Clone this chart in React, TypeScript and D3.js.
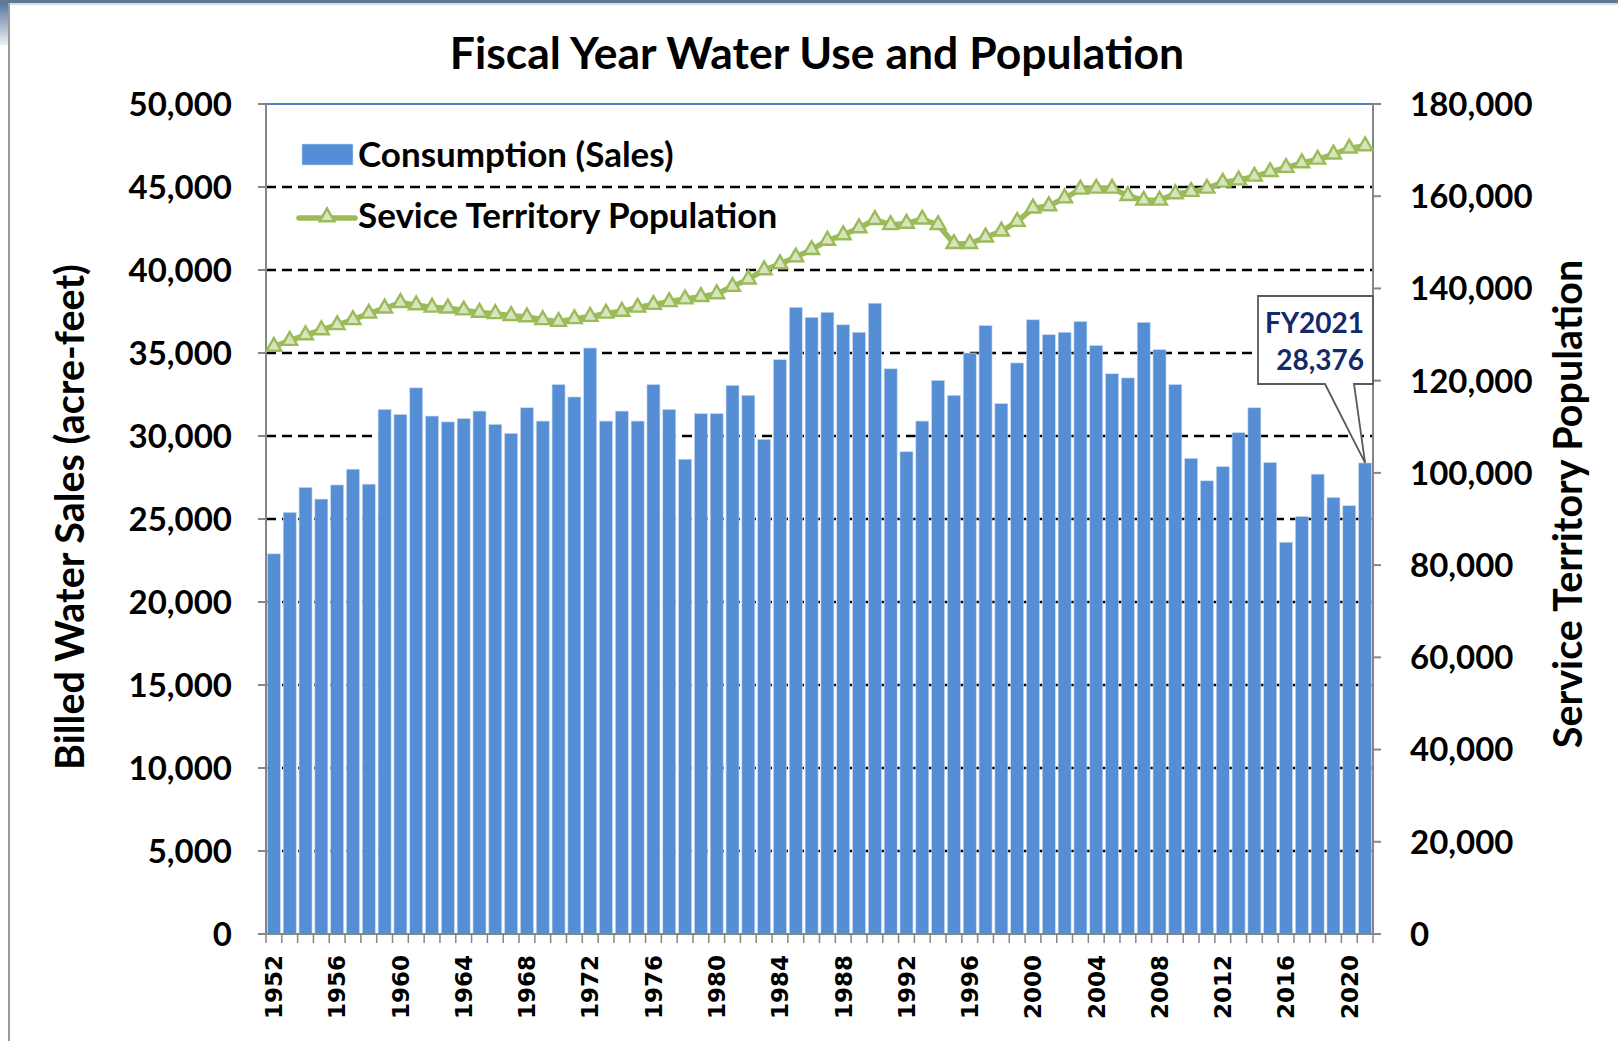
import React, { useEffect, useRef } from 'react';
import * as d3 from 'd3';

// fiscal years shown on the x axis
const years = d3.range(1952, 2022);
const yearTickLabels = ['1952', '1956', '1960', '1964', '1968', '1972', '1976', '1980', '1984', '1988',
  '1992', '1996', '2000', '2004', '2008', '2012', '2016', '2020'];

// billed water sales, acre-feet
const consumption = [
  22900, 25400, 26900, 26200, 27050, 28000, 27100, 31600, 31300, 32900,
  31200, 30850, 31050, 31500, 30700, 30150, 31700, 30900, 33100, 32350,
  35300, 30900, 31500, 30900, 33100, 31600, 28600, 31350, 31350, 33050,
  32450, 29800, 34600, 37750, 37150, 37450, 36700, 36250, 38000, 34050,
  29050, 30900, 33350, 32450, 35000, 36650, 31950, 34400, 37000, 36100,
  36250, 36900, 35450, 33750, 33500, 36850, 35200, 33100, 28650, 27300,
  28150, 30200, 31700, 28400, 23600, 25150, 27700, 26300, 25800, 28376
];

// service territory population
const population = [
  127400, 128700, 129900, 131000, 132100, 133200, 134600, 135700, 136900, 136400,
  135900, 135700, 135300, 134800, 134500, 134100, 133800, 133200, 132800, 133400,
  133900, 134600, 135000, 135900, 136500, 137100, 137700, 138200, 138800, 140400,
  142000, 144000, 145300, 146800, 148400, 150400, 151600, 153100, 154900, 153800,
  154100, 155000, 153800, 149700, 149700, 151100, 152400, 154500, 157400, 157900,
  159600, 161500, 161700, 161700, 160100, 159100, 159100, 160500, 161000, 161700,
  163000, 163500, 164300, 165300, 166200, 167200, 168000, 169100, 170400, 170900
];

const leftTicks = [0, 5000, 10000, 15000, 20000, 25000, 30000, 35000, 40000, 45000, 50000];
const rightTicks = [0, 20000, 40000, 60000, 80000, 100000, 120000, 140000, 160000, 180000];

const W = 1618, H = 1041;
const FONT = 'Lato, "Noto Sans", sans-serif';

export default function App() {
  const ref = useRef<SVGSVGElement>(null);

  useEffect(() => {
    const svg = d3.select(ref.current);
    svg.selectAll('*').remove();

    const left = 266, right = 1373, top = 104, bottom = 934;

    const x = d3.scaleBand<number>().domain(years).range([left, right])
      .paddingInner(0.18).paddingOuter(0.09);
    const yL = d3.scaleLinear().domain([0, 50000]).range([bottom, top]);
    const yR = d3.scaleLinear().domain([0, 180000]).range([bottom, top]);
    const fmt = d3.format(',');

    // window frame bits
    svg.append('rect').attr('x', 0).attr('y', 0).attr('width', W).attr('height', H).attr('fill', '#fff');
    const grad = svg.append('defs').append('linearGradient').attr('id', 'frame')
      .attr('x1', 0).attr('y1', 0).attr('x2', 0).attr('y2', 1);
    grad.append('stop').attr('offset', '0%').attr('stop-color', '#4a6d9c');
    grad.append('stop').attr('offset', '100%').attr('stop-color', '#eef0f3');
    svg.append('rect').attr('x', 0).attr('y', 0).attr('width', 8).attr('height', 45).attr('fill', 'url(#frame)');
    svg.append('rect').attr('x', 0).attr('y', 0).attr('width', W).attr('height', 3).attr('fill', '#5f7898');
    svg.append('line').attr('x1', 9).attr('x2', 9).attr('y1', 3).attr('y2', H)
      .attr('stroke', '#9a9a9a').attr('stroke-width', 2);
    svg.append('line').attr('x1', 9).attr('x2', W).attr('y1', 4).attr('y2', 4)
      .attr('stroke', '#b8b8b8').attr('stroke-width', 1);

    // title
    svg.append('text').attr('x', 817).attr('y', 69).attr('text-anchor', 'middle')
      .attr('font-family', FONT).attr('font-weight', 700).attr('font-size', 44.5)
      .text('Fiscal Year Water Use and Population');

    // dashed gridlines
    svg.append('g').selectAll('line').data(leftTicks.filter(d => d > 0 && d < 50000)).enter()
      .append('line')
      .attr('x1', left).attr('x2', right)
      .attr('y1', d => yL(d)).attr('y2', d => yL(d))
      .attr('stroke', '#000').attr('stroke-width', 2.4).attr('stroke-dasharray', '10,6');

    // top border of plot area
    svg.append('line').attr('x1', left).attr('x2', right).attr('y1', top).attr('y2', top)
      .attr('stroke', '#4f81bd').attr('stroke-width', 2);

    // bars
    svg.append('g').selectAll('rect').data(years).enter().append('rect')
      .attr('x', d => x(d)!)
      .attr('y', (d, i) => yL(consumption[i]))
      .attr('width', x.bandwidth())
      .attr('height', (d, i) => bottom - yL(consumption[i]))
      .attr('fill', '#558ed5')
      .attr('stroke', '#c6d9f1').attr('stroke-width', 0.6);

    // axes lines
    const axisColor = '#868686';
    svg.append('line').attr('x1', left).attr('x2', left).attr('y1', top).attr('y2', bottom)
      .attr('stroke', axisColor).attr('stroke-width', 2);
    svg.append('line').attr('x1', right).attr('x2', right).attr('y1', top).attr('y2', bottom)
      .attr('stroke', axisColor).attr('stroke-width', 2);
    svg.append('line').attr('x1', left - 8).attr('x2', right + 8).attr('y1', bottom).attr('y2', bottom)
      .attr('stroke', axisColor).attr('stroke-width', 2);

    // left ticks + labels
    const gl = svg.append('g');
    gl.selectAll('line').data(leftTicks).enter().append('line')
      .attr('x1', left - 8).attr('x2', left).attr('y1', d => yL(d)).attr('y2', d => yL(d))
      .attr('stroke', axisColor).attr('stroke-width', 2);
    gl.selectAll('text').data(leftTicks).enter().append('text')
      .attr('x', 232).attr('y', d => yL(d)).attr('dy', '0.36em').attr('text-anchor', 'end')
      .attr('font-family', FONT).attr('font-weight', 700).attr('font-size', 33)
      .text(d => fmt(d));

    // right ticks + labels
    const gr = svg.append('g');
    gr.selectAll('line').data(rightTicks).enter().append('line')
      .attr('x1', right).attr('x2', right + 8).attr('y1', d => yR(d)).attr('y2', d => yR(d))
      .attr('stroke', axisColor).attr('stroke-width', 2);
    gr.selectAll('text').data(rightTicks).enter().append('text')
      .attr('x', 1410).attr('y', d => yR(d)).attr('dy', '0.36em').attr('text-anchor', 'start')
      .attr('font-family', FONT).attr('font-weight', 700).attr('font-size', 33)
      .text(d => fmt(d));

    // x ticks at category boundaries
    const step = x.step();
    svg.append('g').selectAll('line').data(d3.range(years.length + 1)).enter().append('line')
      .attr('x1', i => left + i * step).attr('x2', i => left + i * step)
      .attr('y1', bottom).attr('y2', bottom + 9)
      .attr('stroke', axisColor).attr('stroke-width', 1.5);

    // year labels
    svg.append('g').selectAll('text').data(yearTickLabels).enter().append('text')
      .attr('transform', d => `translate(${x(+d)! + x.bandwidth() / 2},955) rotate(-90)`)
      .attr('dy', '0.36em').attr('text-anchor', 'end')
      .attr('font-family', '"DejaVu Sans", sans-serif').attr('font-weight', 700).attr('font-size', 23)
      .text(d => d);

    // axis titles
    svg.append('text').attr('transform', 'translate(70,517) rotate(-90)')
      .attr('text-anchor', 'middle').attr('dy', '0.36em')
      .attr('font-family', FONT).attr('font-weight', 700).attr('font-size', 39.5)
      .text('Billed Water Sales (acre-feet)');
    svg.append('text').attr('transform', 'translate(1568,504) rotate(-90)')
      .attr('text-anchor', 'middle').attr('dy', '0.36em')
      .attr('font-family', FONT).attr('font-weight', 700).attr('font-size', 39.5)
      .text('Service Territory Population');

    // population line
    const cx = (d: number) => x(d)! + x.bandwidth() / 2;
    const line = d3.line<number>().x(d => cx(d)).y((d, i) => yR(population[i]));
    svg.append('path').datum(years).attr('d', line)
      .attr('fill', 'none').attr('stroke', '#9bbb59').attr('stroke-width', 5.5)
      .attr('stroke-linejoin', 'round');
    const tri = d3.symbol().type(d3.symbolTriangle).size(95);
    svg.append('g').selectAll('path').data(years).enter().append('path')
      .attr('transform', (d, i) => `translate(${cx(d)},${yR(population[i])})`)
      .attr('d', tri)
      .attr('fill', '#d7e4bd').attr('stroke', '#9bbb59').attr('stroke-width', 2.4);

    // legend
    const lg = svg.append('g');
    lg.append('rect').attr('x', 302).attr('y', 144).attr('width', 51).attr('height', 21)
      .attr('fill', '#558ed5').attr('stroke', '#c6d9f1').attr('stroke-width', 0.6);
    lg.append('text').attr('x', 358).attr('y', 167)
      .attr('font-family', FONT).attr('font-weight', 700).attr('font-size', 35)
      .text('Consumption (Sales)');
    lg.append('line').attr('x1', 299).attr('x2', 355).attr('y1', 218).attr('y2', 218)
      .attr('stroke', '#9bbb59').attr('stroke-width', 5.5).attr('stroke-linecap', 'round');
    lg.append('path').attr('transform', 'translate(327,217)').attr('d', tri)
      .attr('fill', '#d7e4bd').attr('stroke', '#9bbb59').attr('stroke-width', 2.4);
    lg.append('text').attr('x', 358).attr('y', 228)
      .attr('font-family', FONT).attr('font-weight', 700).attr('font-size', 35)
      .text('Sevice Territory Population');

    // callout for the last year
    const last = years.length - 1;
    const tipX = cx(years[last]);
    const tipY = yL(consumption[last]);
    const bx0 = 1258, bx1 = 1373, by0 = 296, by1 = 384;
    svg.append('path')
      .attr('d', `M${bx0},${by0}H${bx1}V${by1}H1354L${tipX},${tipY}L1325,${by1}H${bx0}Z`)
      .attr('fill', '#fff').attr('stroke', '#595959').attr('stroke-width', 1.8);
    svg.append('text').attr('x', 1364).attr('y', 333).attr('text-anchor', 'end')
      .attr('font-family', FONT).attr('font-weight', 700).attr('font-size', 28).attr('fill', '#13296a')
      .text(`FY${years[last]}`);
    svg.append('text').attr('x', 1364).attr('y', 370).attr('text-anchor', 'end')
      .attr('font-family', FONT).attr('font-weight', 700).attr('font-size', 28).attr('fill', '#13296a')
      .text(fmt(consumption[last]));
  }, []);

  return (
    <svg ref={ref} width={W} height={H}
      style={{ position: 'absolute', left: 0, top: 0, display: 'block' }} />
  );
}
